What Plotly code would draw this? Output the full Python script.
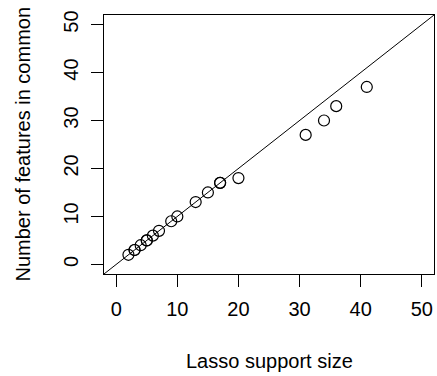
import plotly.graph_objects as go

# Data
lasso_support_size = [2, 3, 3, 4, 5, 5, 6, 7, 9, 10, 13, 15, 17, 17, 20, 31, 34, 36, 41]
features_in_common = [2, 3, 3, 4, 5, 5, 6, 7, 9, 10, 13, 15, 17, 17, 18, 27, 30, 33, 37]
tick_values = [0, 10, 20, 30, 40, 50]
tick_labels = ["0", "10", "20", "30", "40", "50"]
x_title = "Lasso support size"
y_title = "Number of features in common"

axis_range = [-2, 52]
# reference line y = x (abline), spanning the axis range
abline_x = [axis_range[0] - 5, axis_range[1] + 5]
abline_y = [v for v in abline_x]

FONT = "Liberation Sans, Arial, sans-serif"
FS = 20

fig = go.Figure()
fig.add_trace(go.Scatter(x=abline_x, y=abline_y, mode="lines",
                         line=dict(color="black", width=1), hoverinfo="skip",
                         showlegend=False))
fig.add_trace(go.Scatter(x=lasso_support_size, y=features_in_common, mode="markers",
                         marker=dict(symbol="circle-open", size=11, color="black",
                                     line=dict(width=1.2, color="black")),
                         showlegend=False))

axis_common = dict(range=axis_range, tickmode="array", tickvals=tick_values,
                   ticktext=tick_labels, showgrid=False, zeroline=False,
                   showline=True, mirror=True, linecolor="black", linewidth=1,
                   ticks="outside", ticklen=12, tickwidth=1, tickcolor="black",
                   tickfont=dict(family=FONT, size=FS, color="black"))

fig.update_layout(
    width=437, height=376,
    margin=dict(l=104, r=3, t=15, b=102),
    paper_bgcolor="white", plot_bgcolor="white",
    xaxis=dict(**axis_common, ticklabelstandoff=5),
    yaxis=dict(**axis_common, tickangle=-90, ticklabelstandoff=5),
    annotations=[
        dict(text=x_title, xref="paper", yref="paper", x=0.5, y=0,
             yshift=-87, xanchor="center", yanchor="middle", showarrow=False,
             font=dict(family=FONT, size=FS, color="black")),
        dict(text=y_title, xref="paper", yref="paper", x=0, y=0.5,
             xshift=-82, xanchor="center", yanchor="middle", showarrow=False,
             textangle=-90, font=dict(family=FONT, size=FS, color="black")),
    ],
)

fig.write_html("out.html")
